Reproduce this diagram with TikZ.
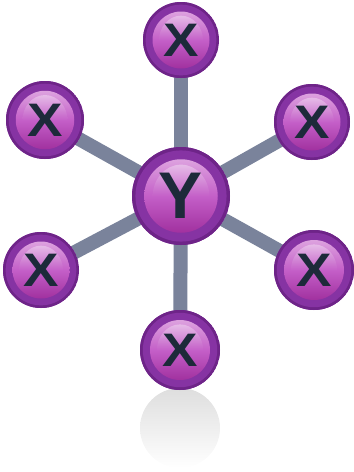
\documentclass[tikz,border=0pt]{standalone}
\usepackage{fontspec}
\setmainfont{Liberation Sans}
\usetikzlibrary{backgrounds}
\definecolor{ringc}{HTML}{8633A3}
\definecolor{ringd}{HTML}{6E2488}
\definecolor{innt}{HTML}{DDA2DF}
\definecolor{innm}{HTML}{C45FC8}
\definecolor{innb}{HTML}{A1319F}
\definecolor{edgec}{HTML}{7A839B}
\definecolor{txtc}{HTML}{1D2A3A}
\tikzset{
  bub/.style={circle, inner sep=0pt, minimum size={2*#1pt}, fill=ringc, text=txtc,
    path picture={
      \fill[ringd] (path picture bounding box.center) circle[radius={#1pt}];
      \fill[ringc] (path picture bounding box.center) circle[radius={0.93*#1pt}];
      \shade[top color=innt, bottom color=innb, middle color=innm]
        (path picture bounding box.center) circle[radius={0.75*#1pt}];
      \shade[top color=white, bottom color=innm, opacity=0.35]
        ([xshift={-0.58*#1pt}, yshift={-0.02*#1pt}]path picture bounding box.center)
        arc[start angle=180, end angle=0, x radius={0.58*#1pt}, y radius={0.66*#1pt}] -- cycle;
    }},
  xlab/.style={font=\bfseries\fontsize{47}{47}\selectfont},
  ylab/.style={font=\bfseries\fontsize{66}{66}\selectfont},
  conn/.style={draw=edgec, line width=14pt}
}
\newcommand{\xl}{\raisebox{-1pt}{\scalebox{1.13}[1]{X}}}
\begin{document}
\begin{tikzpicture}[x=1pt,y=-1pt]
\useasboundingbox (0,0) rectangle (354,472);
\shade[top color=black!13, bottom color=white] (180,428) circle[radius=40pt];
\node[bub=49, ylab] (y) at (181,196) {Y};
\node[bub=38, xlab] (t) at (181,40) {\xl};
\node[bub=39, xlab] (ul) at (45,120) {\xl};
\node[bub=38, xlab] (ur) at (312,122) {\xl};
\node[bub=38, xlab] (ll) at (41,270) {\xl};
\node[bub=40, xlab] (lr) at (314,270) {\xl};
\node[bub=40, xlab] (b) at (180,350) {\xl};
\begin{scope}[on background layer]
\foreach \n in {t,ul,ur,ll,lr,b} \draw[conn] (y.center) -- (\n.center);
\end{scope}
\end{tikzpicture}
\end{document}
